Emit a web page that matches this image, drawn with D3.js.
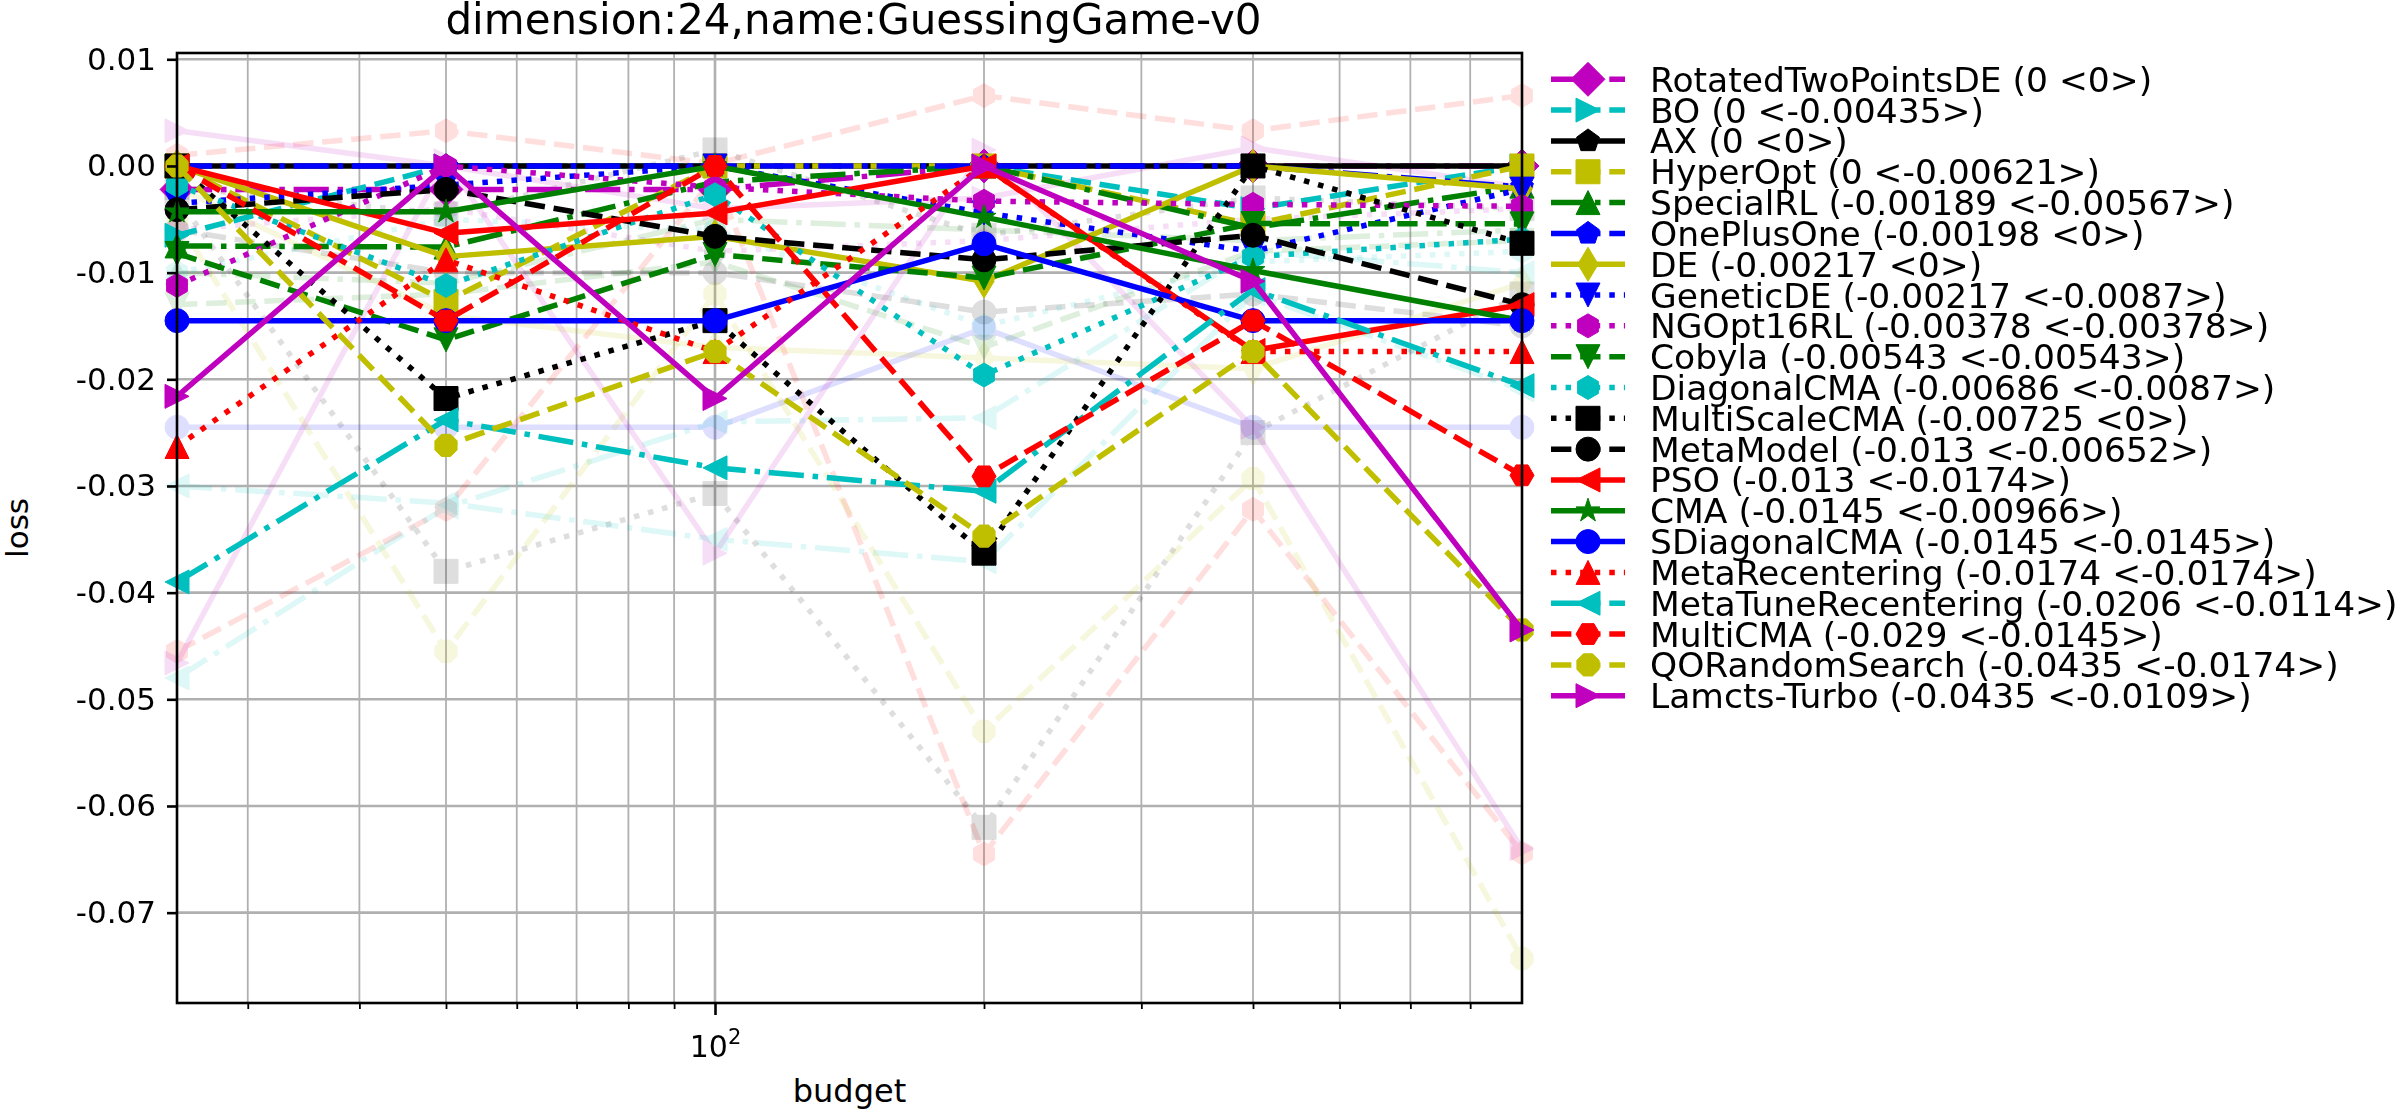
<!DOCTYPE html>
<html><head><meta charset="utf-8">
<script src="https://cdn.jsdelivr.net/npm/d3@7"></script>
<style>body{margin:0;background:#fff;} svg text{font-family:"DejaVu Sans";fill:#000;}</style>
</head><body><svg id="c" width="2400" height="1116"></svg>
<script>
// ---------- data ----------
const budgets = [25, 50, 100, 200, 400, 800];
const yTicks = [0.01, 0, -0.01, -0.02, -0.03, -0.04, -0.05, -0.06, -0.07];
const title = "dimension:24,name:GuessingGame-v0";

const seriesNames = ["RotatedTwoPointsDE (0 <0>)", "BO (0 <-0.00435>)", "AX (0 <0>)", "HyperOpt (0 <-0.00621>)",
  "SpecialRL (-0.00189 <-0.00567>)", "OnePlusOne (-0.00198 <0>)", "DE (-0.00217 <0>)", "GeneticDE (-0.00217 <-0.0087>)",
  "NGOpt16RL (-0.00378 <-0.00378>)", "Cobyla (-0.00543 <-0.00543>)", "DiagonalCMA (-0.00686 <-0.0087>)",
  "MultiScaleCMA (-0.00725 <0>)", "MetaModel (-0.013 <-0.00652>)", "PSO (-0.013 <-0.0174>)", "CMA (-0.0145 <-0.00966>)",
  "SDiagonalCMA (-0.0145 <-0.0145>)", "MetaRecentering (-0.0174 <-0.0174>)", "MetaTuneRecentering (-0.0206 <-0.0114>)",
  "MultiCMA (-0.029 <-0.0145>)", "QORandomSearch (-0.0435 <-0.0174>)", "Lamcts-Turbo (-0.0435 <-0.0109>)"];
const seriesColors = ["m","c","k","y","g","b","y","b","m","g","c","k","k","r","g","b","r","c","r","y","m"];
const seriesDash = ["-.","--","-","--","-.","-.","-",":",":","--",":",":","--","-","-","-",":","-.","--","--","-"];
const seriesMarkers = ["D",">","p","s","^","p","d","v","h","v","h","s","o","<","*","o","^","<","H","8",">"];

const vRotatedTwoPointsDE = [-0.0022, -0.0022, -0.0022, 0, 0, 0];
const vBO = [-0.0065, 0, 0, 0, -0.0040, 0];
const vAX = [0, 0, 0, 0, 0, 0];
const vHyperOpt = [0, -0.0127, 0, 0, -0.0055, 0];
const vSpecialRL = [-0.0075, -0.0076, -0.0015, 0, -0.0058, -0.00189];
const vOnePlusOne = [0, 0, 0, 0, 0, -0.00198];
const vDE = [0, -0.0085, -0.0066, -0.0108, 0, -0.00217];
const vGeneticDE = [-0.0035, -0.0018, 0, -0.0044, -0.0080, -0.00217];
const vNGOpt16RL = [-0.0112, 0, -0.0020, -0.0033, -0.0036, -0.00378];
const vCobyla = [-0.0082, -0.0163, -0.0083, -0.0105, -0.0054, -0.00543];
const vDiagonalCMA = [-0.0018, -0.0112, -0.0027, -0.0196, -0.0085, -0.00686];
const vMultiScaleCMA = [0, -0.0218, -0.0145, -0.0363, 0, -0.00725];
const vMetaModel = [-0.0041, -0.0022, -0.0066, -0.0088, -0.0065, -0.0130];
const vPSO = [0, -0.0063, -0.0044, 0, -0.0173, -0.0130];
const vCMA = [-0.0043, -0.0043, 0, -0.0048, -0.0098, -0.0145];
const vSDiagonalCMA = [-0.0145, -0.0145, -0.0145, -0.0073, -0.0145, -0.0145];
const vMetaRecentering = [-0.0263, -0.0088, -0.0174, 0, -0.0174, -0.0174];
const vMetaTuneRecentering = [-0.0390, -0.0238, -0.0283, -0.0305, -0.0116, -0.0206];
const vMultiCMA = [0, -0.0145, 0, -0.0291, -0.0145, -0.0290];
const vQORandomSearch = [0, -0.0262, -0.0174, -0.0347, -0.0174, -0.0435];
const vLamctsTurbo = [-0.0216, 0, -0.0218, 0, -0.0108, -0.0435];

// faded (non-top) optimizers
const bgColors = ["r","r","k","k","b","m","c","y","c","g","m","y","c","g","k","m"];
const bgDash = ["--","--",":","--","-","-","-.","--","-.","-.",":","-",":","--",":","-"];
const bgMarkers = ["h","h","s","o","o",">","<","8","<","^","h","d","h","v","s",">"];
const bg1 = [0.0010, 0.0033, 0.0002, 0.0066, 0.0033, 0.0066];
const bg2 = [-0.0455, -0.0322, -0.0010, -0.0645, -0.0322, -0.0644];
const bg3 = [-0.0030, -0.0380, -0.0307, -0.0620, -0.0250, -0.0120];
const bg4 = [-0.0060, -0.0100, -0.0100, -0.0137, -0.0120, -0.0150];
const bg5 = [-0.0245, -0.0245, -0.0245, -0.0152, -0.0245, -0.0245];
const bg6 = [-0.0466, 0.0005, -0.0363, 0.0015, -0.0245, -0.0640];
const bg7 = [-0.0300, -0.0316, -0.0350, -0.0371, -0.0120, -0.0210];
const bg8 = [-0.0050, -0.0455, -0.0120, -0.0530, -0.0293, -0.0743];
const bg9 = [-0.0480, -0.0320, -0.0240, -0.0236, -0.0080, -0.0100];
const bg10 = [-0.0100, -0.0110, -0.0050, -0.0060, -0.0070, -0.0060];
const bg11 = [-0.0060, -0.0040, -0.0080, -0.0070, -0.0050, -0.0040];
const bg12 = [-0.0020, -0.0140, -0.0170, -0.0180, -0.0190, -0.0110];
const bg13 = [-0.0100, -0.0050, -0.0060, -0.0150, -0.0090, -0.0080];
const bg14 = [-0.0130, -0.0120, -0.0090, -0.0170, -0.0080, -0.0070];
const bg15 = [-0.0020, -0.0045, 0.0015, -0.0065, -0.0030, -0.0040];
const bg16 = [0.0033, 0.0000, -0.0040, -0.0030, 0.0017, -0.0020];

const seriesValues = [vRotatedTwoPointsDE, vBO, vAX, vHyperOpt, vSpecialRL, vOnePlusOne, vDE, vGeneticDE, vNGOpt16RL,
  vCobyla, vDiagonalCMA, vMultiScaleCMA, vMetaModel, vPSO, vCMA, vSDiagonalCMA, vMetaRecentering, vMetaTuneRecentering,
  vMultiCMA, vQORandomSearch, vLamctsTurbo];
const bgValues = [bg1, bg2, bg3, bg4, bg5, bg6, bg7, bg8, bg9, bg10, bg11, bg12, bg13, bg14, bg15, bg16];

// ---------- styling ----------
const colorMap = {b:"#0000ff", g:"#008000", r:"#ff0000", c:"#00bfbf", m:"#bf00bf", y:"#bfbf00", k:"#000000"};
const LW = 5.5, MS = 24;
const dashMap = {"-":null, "--":[3.7*LW,1.6*LW], "-.":[6.4*LW,1.6*LW,LW,1.6*LW], ":":[LW,1.65*LW]};

function poly(ctx, pts){ ctx.moveTo(pts[0][0], pts[0][1]); for (let i=1;i<pts.length;i++) ctx.lineTo(pts[i][0], pts[i][1]); ctx.closePath(); }
function regular(n, r, rot){ const p=[]; for(let i=0;i<n;i++){ const a = rot + i*2*Math.PI/n; p.push([r*Math.sin(a), -r*Math.cos(a)]);} return p; }
function markerType(code){
  return {draw(ctx, size){
    const s = Math.sqrt(size), r = s/2;
    switch(code){
      case "o": ctx.moveTo(r,0); ctx.arc(0,0,r,0,2*Math.PI); break;
      case "s": poly(ctx, [[-r,-r],[r,-r],[r,r],[-r,r]]); break;
      case "D": { const d=r*1.414; poly(ctx, [[0,-d],[d,0],[0,d],[-d,0]]); break; }
      case "d": { const d=r*1.414; poly(ctx, [[0,-d],[0.6*d,0],[0,d],[-0.6*d,0]]); break; }
      case "^": poly(ctx, [[0,-r],[r,r],[-r,r]]); break;
      case "v": poly(ctx, [[0,r],[r,-r],[-r,-r]]); break;
      case "<": poly(ctx, [[-r,0],[r,-r],[r,r]]); break;
      case ">": poly(ctx, [[r,0],[-r,-r],[-r,r]]); break;
      case "p": poly(ctx, regular(5, r, 0)); break;
      case "h": poly(ctx, regular(6, r, 0)); break;
      case "H": poly(ctx, regular(6, r, Math.PI/6)); break;
      case "8": poly(ctx, regular(8, r, Math.PI/8)); break;
      case "*": { const p=[]; for(let i=0;i<10;i++){ const a=i*Math.PI/5; const rr = i%2===0 ? r*1.05 : r*0.4; p.push([rr*Math.sin(a), -rr*Math.cos(a)]);} poly(ctx,p); break; }
    }
  }};
}

// ---------- layout ----------
const svg = d3.select("#c");
const L = 177, R = 1522, T = 53, B = 1003;
const x = d3.scaleLog().domain([25, 800]).range([L, R]);
const y = d3.scaleLinear().domain([-0.07847, 0.01059]).range([B, T]);

svg.append("rect").attr("width", 2400).attr("height", 1116).attr("fill", "#fff");

// grid
const minorX = [30,40,50,60,70,80,90,200,300,400,500,600,700,800].filter(v => v > 25 && v < 800);
const grid = svg.append("g");
grid.selectAll(".gxm").data(minorX).join("line").attr("x1", d=>x(d)).attr("x2", d=>x(d)).attr("y1", T).attr("y2", B)
  .attr("stroke", "#b0b0b0").attr("stroke-width", 1.8);
grid.selectAll(".gxM").data([100]).join("line").attr("x1", d=>x(d)).attr("x2", d=>x(d)).attr("y1", T).attr("y2", B)
  .attr("stroke", "#b0b0b0").attr("stroke-width", 2.6);
grid.selectAll(".gy").data(yTicks).join("line").attr("x1", L).attr("x2", R).attr("y1", d=>y(d)).attr("y2", d=>y(d))
  .attr("stroke", "#b0b0b0").attr("stroke-width", 2.6);

const plot = svg.append("g");
plot.append("clipPath").attr("id","clip").append("rect").attr("x",L).attr("y",T).attr("width",R-L).attr("height",B-T);
const line = d3.line().x((d,i)=>x(budgets[i])).y(d=>y(d));

function drawSeries(g, vals, col, dash, mk, alpha){
  const c = colorMap[col];
  const grp = g.append("g").attr("opacity", alpha);
  const p = grp.append("path").attr("d", line(vals)).attr("fill","none").attr("stroke", c).attr("stroke-width", LW)
    .attr("stroke-linejoin","round").attr("clip-path","url(#clip)");
  if (dashMap[dash]) p.attr("stroke-dasharray", dashMap[dash].join(","));
  else p.attr("stroke-linecap","square");
  const sym = d3.symbol().type(markerType(mk)).size(MS*MS);
  grp.selectAll("path.mk").data(vals).join("path").attr("class","mk")
    .attr("transform", (d,i)=>`translate(${x(budgets[i])},${y(d)})`).attr("d", sym).attr("fill", c)
    .attr("stroke", c).attr("stroke-width", 1);
}
bgValues.forEach((v,i)=>drawSeries(plot, v, bgColors[i], bgDash[i], bgMarkers[i], 0.13));
seriesValues.forEach((v,i)=>drawSeries(plot, v, seriesColors[i], seriesDash[i], seriesMarkers[i], 1));

// axes frame
svg.append("rect").attr("x",L).attr("y",T).attr("width",R-L).attr("height",B-T).attr("fill","none")
  .attr("stroke","#000").attr("stroke-width",2.6);

// y axis
const yAxis = d3.axisLeft(y).tickValues(yTicks).tickSize(10).tickPadding(11)
  .tickFormat(d => (d < 0 ? "-" : "") + Math.abs(d).toFixed(2));
const gy = svg.append("g").attr("transform",`translate(${L},0)`).call(yAxis);
gy.select(".domain").remove();
gy.selectAll(".tick line").attr("stroke","#000").attr("stroke-width",2.6);
gy.selectAll(".tick text").attr("font-size",31).attr("font-family","DejaVu Sans");

// x axis: major 10^2 + minor ticks
const gx = svg.append("g").attr("transform",`translate(0,${B})`);
const xAxisMinor = d3.axisBottom(x).tickValues(minorX).tickSize(6).tickFormat("");
gx.call(xAxisMinor);
gx.select(".domain").remove();
gx.selectAll(".tick line").attr("stroke","#000").attr("stroke-width",1.8);
const gxM = svg.append("g").attr("transform",`translate(0,${B})`);
gxM.call(d3.axisBottom(x).tickValues([100]).tickSize(12).tickFormat(""));
gxM.select(".domain").remove();
gxM.selectAll(".tick line").attr("stroke","#000").attr("stroke-width",2.6);
const t100 = gxM.select(".tick").append("text").attr("y", 54).attr("text-anchor","middle").attr("font-size",30)
  .attr("fill","#000").attr("font-family","DejaVu Sans");
t100.append("tspan").text("10");
t100.append("tspan").attr("dy", -13).attr("font-size", 21).text("2");

// labels
svg.append("text").attr("x",(L+R)/2).attr("y",1102).attr("text-anchor","middle").attr("font-size",32).text("budget");
svg.append("text").attr("transform",`translate(28,${(T+B)/2}) rotate(-90)`).attr("text-anchor","middle").attr("font-size",31).text("loss");
svg.append("text").attr("x",(L+R)/2 + 4).attr("y",34).attr("text-anchor","middle").attr("font-size",42).text(title);

// legend
const lg = svg.append("g");
seriesNames.forEach((name,i)=>{
  const cy = 79.3 + i*30.82;
  const c = colorMap[seriesColors[i]];
  const ln = lg.append("line").attr("x1",1551).attr("x2",1625).attr("y1",cy).attr("y2",cy).attr("stroke",c).attr("stroke-width",LW);
  if (dashMap[seriesDash[i]]) ln.attr("stroke-dasharray", dashMap[seriesDash[i]].join(","));
  lg.append("path").attr("transform",`translate(1588,${cy})`).attr("d", d3.symbol().type(markerType(seriesMarkers[i])).size(MS*MS)())
    .attr("fill",c).attr("stroke",c).attr("stroke-width",1);
  lg.append("text").attr("x",1650).attr("y",cy+12.5).attr("font-size",34.5).text(name);
});
</script></body></html>
